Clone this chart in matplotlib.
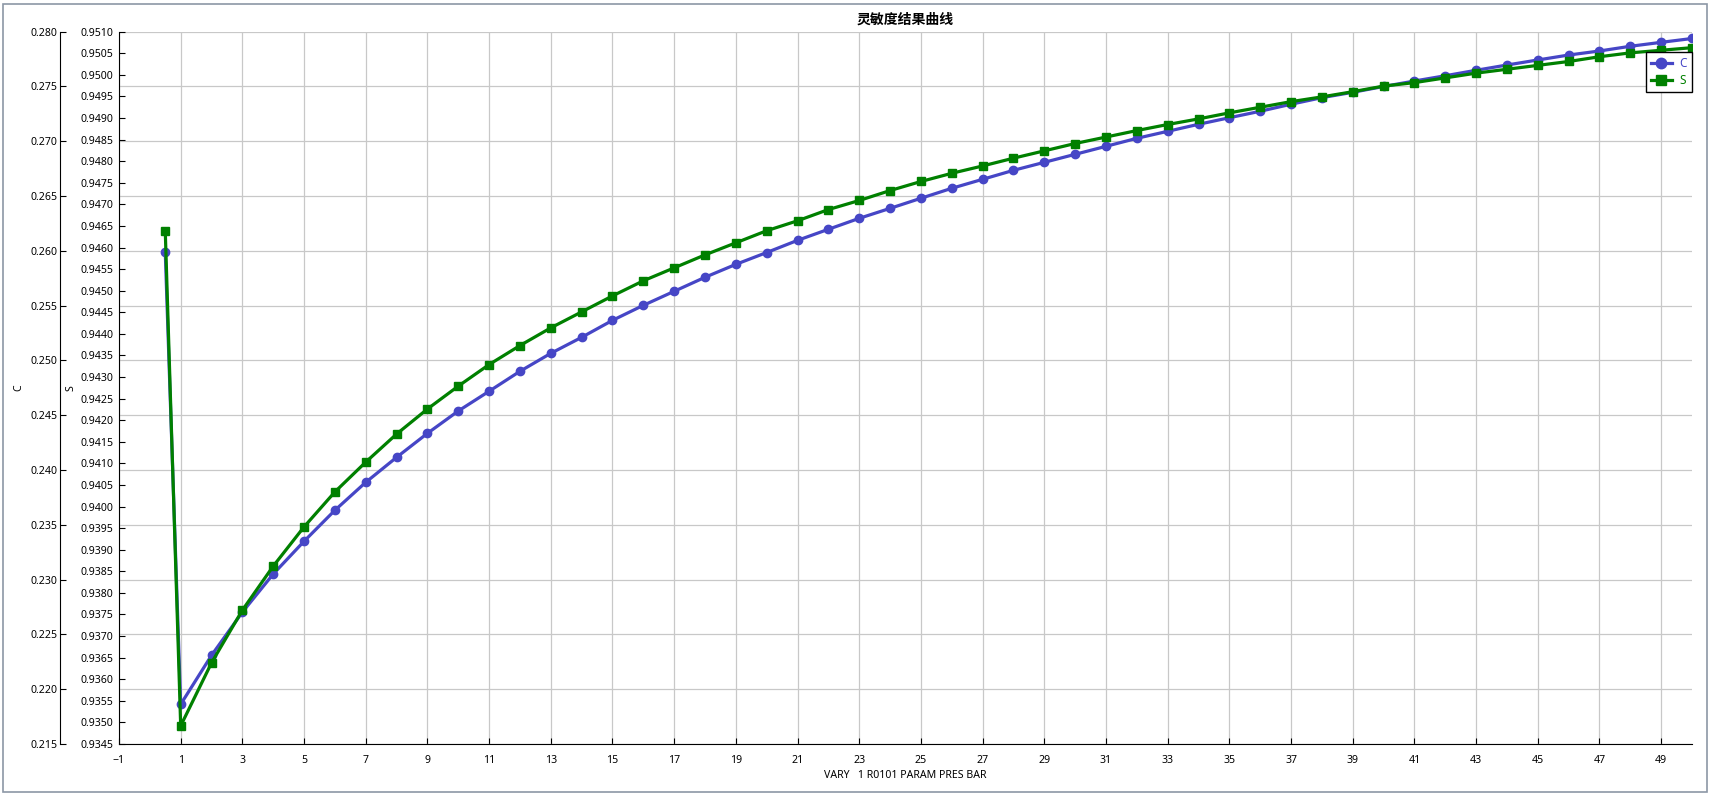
import matplotlib
matplotlib.use("Agg")
import matplotlib.pyplot as plt
from matplotlib.patches import Rectangle

plt.rcParams['font.family'] = ['Noto Sans', 'Noto Sans CJK SC', 'DejaVu Sans']

# ---- data ----
x_vals = [0.5] + list(range(1, 51))
c_vals = [0.25987, 0.21862, 0.22309, 0.22703, 0.23051, 0.23350, 0.23633, 0.23888,
          0.24116, 0.24335, 0.24539, 0.24719, 0.24901, 0.25065, 0.25211, 0.25366,
          0.25503, 0.25631, 0.25759, 0.25877, 0.25985, 0.26096, 0.26197, 0.26297,
          0.26388, 0.26480, 0.26571, 0.26653, 0.26735, 0.26808, 0.26881, 0.26954,
          0.27027, 0.27091, 0.27155, 0.27215, 0.27274, 0.27338, 0.27398, 0.27447,
          0.27500, 0.27550, 0.27598, 0.27648, 0.27696, 0.27742, 0.27787, 0.27824,
          0.27867, 0.27903, 0.27938]
s_vals = [0.94638, 0.93492, 0.93638, 0.93760, 0.93862, 0.93953, 0.94034, 0.94103,
          0.94168, 0.94226, 0.94279, 0.94329, 0.94373, 0.94414, 0.94451, 0.94488,
          0.94523, 0.94553, 0.94583, 0.94611, 0.94639, 0.94662, 0.94688, 0.94709,
          0.94732, 0.94753, 0.94772, 0.94789, 0.94807, 0.94824, 0.94841, 0.94856,
          0.94871, 0.94885, 0.94898, 0.94912, 0.94925, 0.94938, 0.94949, 0.94961,
          0.94974, 0.94982, 0.94993, 0.95004, 0.95013, 0.95022, 0.95031, 0.95042,
          0.95051, 0.95057, 0.95063]
x_ticks = list(range(-1, 50, 2))
c_ticks = [0.215 + 0.005 * i for i in range(14)]
s_ticks = [0.9345 + 0.0005 * i for i in range(34)]
title = "灵敏度结果曲线"
x_label = "VARY   1 R0101 PARAM PRES BAR"

# ---- figure ----
W, H, DPI = 1711, 796, 100
fig = plt.figure(figsize=(W / DPI, H / DPI), dpi=DPI)
fig.patch.set_facecolor('white')

# window-like frame
fig.patches.append(Rectangle((3 / W, 4 / H), (W - 7) / W, (H - 8) / H,
                             transform=fig.transFigure, fill=False,
                             edgecolor='#8c97a6', linewidth=1.2))

left, right, top, bottom = 119, 1692, 31.7, 744
ax = fig.add_axes([left / W, (H - bottom) / H, (right - left) / W, (bottom - top) / H])

blue = '#4646c6'
green = '#008000'
fs = 7.6

# C on main axes (with grid)
lc, = ax.plot(x_vals, c_vals, color=blue, lw=2.3, marker='o', ms=6, label='C', zorder=3)
ax.set_xlim(-1, 50)
ax.set_ylim(0.215, 0.280)
ax.set_xticks(x_ticks)
ax.set_yticks(c_ticks)
ax.set_yticklabels([f"{v:.3f}" for v in c_ticks])
ax.grid(True, color='#c8c8c8', lw=0.9)
ax.set_axisbelow(True)
for sp in ['top', 'right']:
    ax.spines[sp].set_visible(False)
ax.spines['left'].set_position(('axes', -59 / (right - left)))
ax.spines['left'].set_bounds(0.215, 0.280)
ax.tick_params(axis='y', direction='in', length=4, pad=2, labelsize=fs)
ax.tick_params(axis='x', direction='in', length=4, pad=8, labelsize=fs)
ax.set_xlabel(x_label, fontsize=fs, labelpad=3)
ax.set_ylabel('C', fontsize=fs, labelpad=4)

# S on twin axes
ax2 = ax.twinx()
ls, = ax2.plot(x_vals, s_vals, color=green, lw=2.3, marker='s', ms=6, label='S', zorder=3)
ax2.set_ylim(0.9345, 0.9510)
ax2.set_yticks(s_ticks)
ax2.set_yticklabels([f"{v:.4f}" for v in s_ticks])
ax2.yaxis.set_ticks_position('left')
ax2.yaxis.set_label_position('left')
for sp in ['top', 'right', 'bottom']:
    ax2.spines[sp].set_visible(False)
ax2.spines['left'].set_visible(True)
ax2.tick_params(axis='y', direction='in', length=4, pad=4, labelsize=fs)
ax2.set_ylabel('S', fontsize=fs, labelpad=3)

ax.set_title(title, fontsize=10, fontweight='bold', pad=6,
             fontfamily=['Noto Sans CJK SC', 'DejaVu Sans'])

leg = ax2.legend(handles=[lc, ls], loc='upper right',
                 bbox_to_anchor=(1.0, 1 - 20 / (bottom - top)),
                 borderaxespad=0, fontsize=8.5, fancybox=False, framealpha=1,
                 edgecolor='black', labelcolor='linecolor', handlelength=1.8,
                 handletextpad=0.6, markerscale=1.25,
                 borderpad=0.45, labelspacing=0.35)
leg.get_frame().set_linewidth(1.0)

fig.savefig('out.png', dpi=DPI, facecolor='white')
